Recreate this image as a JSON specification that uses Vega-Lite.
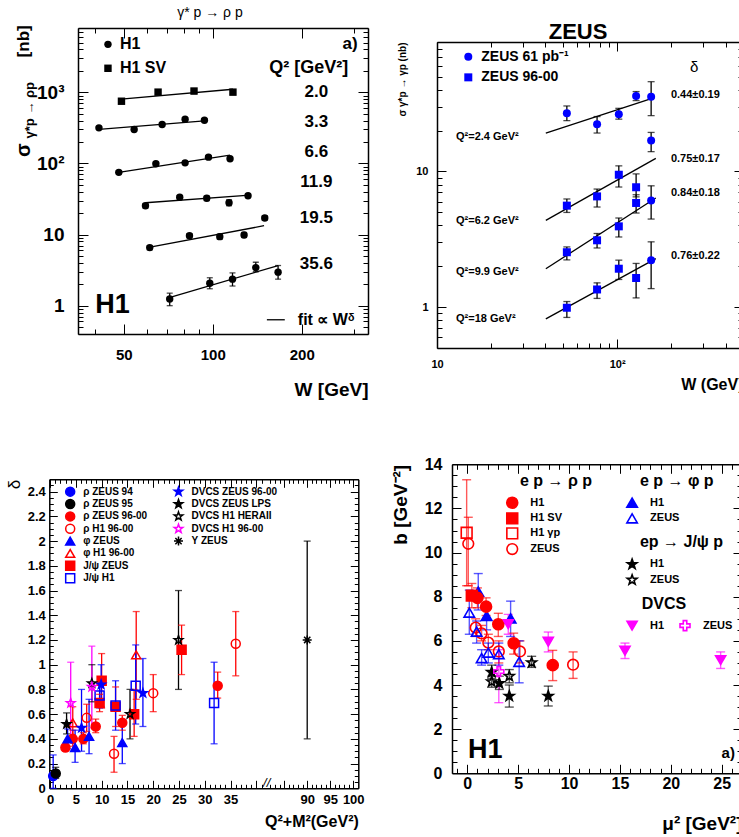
{
"$schema": "https://vega.github.io/schema/vega-lite/v6.json",
"width": 739, "height": 837,
"autosize": {"type": "none"},
"padding": 0,
"background": "white",
"config": {
  "font": "Liberation Sans",
  "view": {"stroke": null},
  "axis": {"grid": false, "labelFlush": false, "labelOverlap": false, "domainColor": "#000000", "domainWidth": 1.5, "tickColor": "#000000", "tickWidth": 1, "labelColor": "#000000", "labelFontWeight": "bold", "titleColor": "#000000", "titleFontWeight": "bold", "labelFont": "Liberation Sans", "titleFont": "Liberation Sans"}
},
"datasets": {
  "tl": [
    {"s":"H1 SV","q":"2.0","x":49.1,"y":748,"lo":690,"hi":810},
    {"s":"H1 SV","q":"2.0","x":65.3,"y":1004,"lo":925,"hi":1085},
    {"s":"H1 SV","q":"2.0","x":86.4,"y":1040,"lo":955,"hi":1125},
    {"s":"H1 SV","q":"2.0","x":117,"y":1004,"lo":925,"hi":1085},
    {"s":"H1","q":"3.3","x":41.2,"y":316,"lo":302,"hi":330},
    {"s":"H1","q":"3.3","x":54.2,"y":300,"lo":287,"hi":313},
    {"s":"H1","q":"3.3","x":67.4,"y":352,"lo":337,"hi":367},
    {"s":"H1","q":"3.3","x":80.6,"y":418,"lo":400,"hi":436},
    {"s":"H1","q":"3.3","x":93.7,"y":405,"lo":388,"hi":422},
    {"s":"H1","q":"6.6","x":48.1,"y":74.8,"lo":71.2,"hi":78.4},
    {"s":"H1","q":"6.6","x":64.2,"y":98.6,"lo":93.8,"hi":103.4},
    {"s":"H1","q":"6.6","x":80.6,"y":101.8,"lo":96.8,"hi":106.8},
    {"s":"H1","q":"6.6","x":96.7,"y":122.4,"lo":116.3,"hi":128.5},
    {"s":"H1","q":"6.6","x":114.4,"y":116,"lo":110,"hi":122},
    {"s":"H1","q":"11.9","x":59.2,"y":25.4,"lo":23.6,"hi":27.3},
    {"s":"H1","q":"11.9","x":77.3,"y":33.4,"lo":31.6,"hi":35.3},
    {"s":"H1","q":"11.9","x":95.4,"y":32.3,"lo":30,"hi":34.8},
    {"s":"H1","q":"11.9","x":113.5,"y":28,"lo":25.4,"hi":30.8},
    {"s":"H1","q":"11.9","x":131.6,"y":35.1,"lo":33.2,"hi":37.1},
    {"s":"H1","q":"19.5","x":61.2,"y":6.55,"lo":6.1,"hi":7.0},
    {"s":"H1","q":"19.5","x":83.4,"y":9.65,"lo":9.0,"hi":10.3},
    {"s":"H1","q":"19.5","x":105.6,"y":9.34,"lo":8.6,"hi":10.1},
    {"s":"H1","q":"19.5","x":127.6,"y":9.87,"lo":9.1,"hi":10.7},
    {"s":"H1","q":"19.5","x":149.9,"y":17.1,"lo":15.9,"hi":18.4},
    {"s":"H1","q":"35.6","x":71.5,"y":1.24,"lo":1.0,"hi":1.5},
    {"s":"H1","q":"35.6","x":97.7,"y":2.07,"lo":1.73,"hi":2.47},
    {"s":"H1","q":"35.6","x":116.6,"y":2.36,"lo":1.89,"hi":2.89},
    {"s":"H1","q":"35.6","x":139.8,"y":3.43,"lo":3.0,"hi":4.08},
    {"s":"H1","q":"35.6","x":166.3,"y":2.96,"lo":2.36,"hi":3.67}
  ],
  "tl_fit": [
    {"q":"2.0","x":49,"y":798},{"q":"2.0","x":117,"y":1102},
    {"q":"3.3","x":41.2,"y":300},{"q":"3.3","x":93.7,"y":395},
    {"q":"6.6","x":48.1,"y":74.8},{"q":"6.6","x":114.4,"y":130.7},
    {"q":"11.9","x":59.2,"y":28},{"q":"11.9","x":133.4,"y":35.9},
    {"q":"19.5","x":60.1,"y":6.55},{"q":"19.5","x":149.1,"y":13.3},
    {"q":"35.6","x":70.3,"y":1.28},{"q":"35.6","x":166.3,"y":3.66}
  ],
  "tl_leg": [{"s":"H1","x":44.2,"y":4710,"t":"H1"},{"s":"H1 SV","x":44.2,"y":2173,"t":"H1 SV"}],
  "tl_q": [{"t":"2.0","x":224,"y":1010},{"t":"3.3","x":224,"y":383},{"t":"6.6","x":224,"y":145},{"t":"11.9","x":224,"y":55},{"t":"19.5","x":224,"y":17.3},{"t":"35.6","x":224,"y":3.9}],
  "tr": [
    {"s":"61","q":"2.4","x":52.6,"y":26.9,"lo":23.7,"hi":30.4},
    {"s":"61","q":"2.4","x":77.4,"y":22.3,"lo":19.2,"hi":25.4},
    {"s":"61","q":"2.4","x":102.2,"y":26.4,"lo":24.3,"hi":29.2},
    {"s":"61","q":"2.4","x":127.5,"y":36.0,"lo":33.3,"hi":38.8},
    {"s":"61","q":"2.4","x":154.5,"y":35.6,"lo":25.8,"hi":45.9},
    {"s":"9600","q":"6.2","x":52.6,"y":5.6,"lo":4.99,"hi":6.27},
    {"s":"9600","q":"6.2","x":77.4,"y":6.55,"lo":5.47,"hi":7.42},
    {"s":"9600","q":"6.2","x":102.2,"y":9.46,"lo":7.68,"hi":11.0},
    {"s":"9600","q":"6.2","x":127.5,"y":7.65,"lo":6.5,"hi":9.6},
    {"s":"61","q":"6.2","x":154.5,"y":16.9,"lo":14.0,"hi":19.4},
    {"s":"9600","q":"9.9","x":52.6,"y":2.54,"lo":2.23,"hi":2.78},
    {"s":"9600","q":"9.9","x":77.4,"y":3.11,"lo":2.73,"hi":3.49},
    {"s":"9600","q":"9.9","x":102.2,"y":3.94,"lo":3.29,"hi":4.54},
    {"s":"9600","q":"9.9","x":127.5,"y":5.86,"lo":4.94,"hi":6.74},
    {"s":"61","q":"9.9","x":154.5,"y":6.12,"lo":4.46,"hi":7.84},
    {"s":"9600","q":"18","x":52.6,"y":0.99,"lo":0.84,"hi":1.1},
    {"s":"9600","q":"18","x":77.4,"y":1.35,"lo":1.16,"hi":1.51},
    {"s":"9600","q":"18","x":102.2,"y":1.92,"lo":1.6,"hi":2.22},
    {"s":"9600","q":"18","x":127.5,"y":1.64,"lo":1.17,"hi":2.1},
    {"s":"61","q":"18","x":154.5,"y":2.22,"lo":1.37,"hi":3.03}
  ],
  "tr_fit": [
    {"q":"2.4","x":40.2,"y":19.2},{"q":"2.4","x":161,"y":35.0},
    {"q":"6.2","x":40.2,"y":4.36},{"q":"6.2","x":164,"y":12.5},
    {"q":"9.9","x":40.2,"y":1.92},{"q":"9.9","x":164,"y":6.37},
    {"q":"18","x":40.2,"y":0.82},{"q":"18","x":164,"y":2.28}
  ],
  "tr_leg": [{"s":"61","x":14.92,"y":70.1,"t":"ZEUS 61 pb⁻¹"},{"s":"9600","x":14.92,"y":49.4,"t":"ZEUS 96-00"}],
  "tr_d": [{"t":"0.44±0.19","x":199,"y":36.5},{"t":"0.75±0.17","x":199,"y":12.4},{"t":"0.84±0.18","x":199,"y":6.94},{"t":"0.76±0.22","x":199,"y":2.4}],
  "tr_q": [{"t":"Q²=2.4 GeV²","x":12.75,"y":18.1},{"t":"Q²=6.2 GeV²","x":12.75,"y":4.29},{"t":"Q²=9.9 GeV²","x":12.75,"y":1.83},{"t":"Q²=18 GeV²","x":12.75,"y":0.815}],
  "bl": [
    {"s":"rz94","x":0.6,"y":0.10,"lo":0.0,"hi":0.27},
    {"s":"rz95","x":1.1,"y":0.12,"lo":0.08,"hi":0.17},
    {"s":"rz96","x":2.97,"y":0.33,"lo":0.30,"hi":0.36},
    {"s":"rz96","x":4.4,"y":0.40,"lo":0.34,"hi":0.47},
    {"s":"rz96","x":6.45,"y":0.40,"lo":0.36,"hi":0.45},
    {"s":"rz96","x":8.85,"y":0.50,"lo":0.45,"hi":0.56},
    {"s":"rz96","x":14.0,"y":0.53,"lo":0.47,"hi":0.59},
    {"s":"rz96","x":32.5,"y":0.83,"lo":0.73,"hi":0.94},
    {"s":"rh1","x":7.1,"y":0.57,"lo":0.46,"hi":0.68},
    {"s":"rh1","x":12.4,"y":0.28,"lo":0.13,"hi":0.42},
    {"s":"rh1","x":20.0,"y":0.77,"lo":0.62,"hi":0.92},
    {"s":"rh1","x":36.0,"y":1.17,"lo":0.91,"hi":1.43},
    {"s":"pz","x":3.4,"y":0.40,"lo":0.32,"hi":0.48},
    {"s":"pz","x":4.85,"y":0.33,"lo":0.21,"hi":0.47},
    {"s":"pz","x":7.56,"y":0.42,"lo":0.28,"hi":0.72},
    {"s":"pz","x":14.0,"y":0.37,"lo":0.20,"hi":0.55},
    {"s":"ph1","x":4.4,"y":0.53,"lo":0.40,"hi":0.66},
    {"s":"ph1","x":16.7,"y":1.08,"lo":0.72,"hi":1.43},
    {"s":"jz","x":9.6,"y":0.69,"lo":0.62,"hi":0.76},
    {"s":"jz","x":10.0,"y":0.87,"lo":0.65,"hi":1.09},
    {"s":"jz","x":12.7,"y":0.66,"lo":0.50,"hi":0.82},
    {"s":"jz","x":16.3,"y":0.60,"lo":0.42,"hi":0.80},
    {"s":"jz","x":25.5,"y":1.12,"lo":0.92,"hi":1.32},
    {"s":"jh1","x":9.6,"y":0.75,"lo":0.65,"hi":0.85},
    {"s":"jh1","x":12.7,"y":0.67,"lo":0.47,"hi":0.87},
    {"s":"jh1","x":16.6,"y":0.83,"lo":0.52,"hi":1.16},
    {"s":"jh1","x":31.8,"y":0.69,"lo":0.36,"hi":1.02},
    {"s":"dz","x":6.1,"y":0.49,"lo":0.30,"hi":0.80},
    {"s":"dz","x":9.9,"y":0.84,"lo":0.66,"hi":1.0},
    {"s":"dz","x":18.0,"y":0.77,"lo":0.50,"hi":1.05},
    {"s":"dzl","x":3.2,"y":0.52,"lo":0.44,"hi":0.61},
    {"s":"dh2","x":8.1,"y":0.85,"lo":0.70,"hi":1.0},
    {"s":"dh2","x":15.5,"y":0.60,"lo":0.40,"hi":0.80},
    {"s":"dh2","x":24.9,"y":1.20,"lo":0.80,"hi":1.60},
    {"s":"dh1","x":4.0,"y":0.69,"lo":0.38,"hi":1.02},
    {"s":"dh1","x":8.1,"y":0.82,"lo":0.49,"hi":1.15},
    {"s":"uz","x":90,"y":1.2,"lo":0.4,"hi":2.0}
  ],
  "bl_leg": [
    {"s":"rz94","x":3.9,"y":2.4,"t":"ρ ZEUS 94"},
    {"s":"rz95","x":3.9,"y":2.3,"t":"ρ ZEUS 95"},
    {"s":"rz96","x":3.9,"y":2.2,"t":"ρ ZEUS 96-00"},
    {"s":"rh1","x":3.9,"y":2.1,"t":"ρ H1 96-00"},
    {"s":"pz","x":3.9,"y":2.0,"t":"φ ZEUS"},
    {"s":"ph1","x":3.9,"y":1.9,"t":"φ H1 96-00"},
    {"s":"jz","x":3.9,"y":1.8,"t":"J/ψ ZEUS"},
    {"s":"jh1","x":3.9,"y":1.7,"t":"J/ψ H1"},
    {"s":"dz","x":24.9,"y":2.4,"t":"DVCS ZEUS 96-00"},
    {"s":"dzl","x":24.9,"y":2.3,"t":"DVCS ZEUS LPS"},
    {"s":"dh2","x":24.9,"y":2.2,"t":"DVCS H1 HERAII"},
    {"s":"dh1","x":24.9,"y":2.1,"t":"DVCS H1 96-00"},
    {"s":"uz","x":24.9,"y":2.0,"t":"Υ ZEUS"}
  ],
  "br": [
    {"s":"rgp","x":-0.06,"y":10.9,"lo":8.5,"hi":13.3},
    {"s":"rz","x":0.1,"y":10.4,"lo":8.5,"hi":11.6},
    {"s":"rz","x":0.83,"y":6.6,"lo":6.2,"hi":7.0},
    {"s":"rz","x":1.41,"y":6.34,"lo":6.0,"hi":6.7},
    {"s":"rz","x":2.07,"y":5.92,"lo":5.6,"hi":6.3},
    {"s":"rz","x":3.1,"y":5.52,"lo":5.0,"hi":6.0},
    {"s":"rz","x":5.18,"y":5.52,"lo":5.0,"hi":6.0},
    {"s":"rz","x":10.4,"y":4.92,"lo":4.3,"hi":5.5},
    {"s":"pz","x":0.2,"y":7.28,"lo":6.3,"hi":8.3},
    {"s":"pz","x":0.92,"y":6.42,"lo":5.9,"hi":6.9},
    {"s":"pz","x":1.41,"y":5.22,"lo":4.9,"hi":5.6},
    {"s":"pz","x":2.07,"y":5.47,"lo":5.0,"hi":5.9},
    {"s":"pz","x":3.1,"y":5.4,"lo":4.9,"hi":5.9},
    {"s":"pz","x":5.1,"y":5.05,"lo":4.1,"hi":6.0},
    {"s":"ph1","x":1.08,"y":8.23,"lo":7.4,"hi":9.05},
    {"s":"ph1","x":1.9,"y":7.13,"lo":6.5,"hi":7.7},
    {"s":"ph1","x":4.26,"y":7.02,"lo":6.2,"hi":7.8},
    {"s":"rsv","x":0.45,"y":8.05,"lo":7.5,"hi":8.6},
    {"s":"rh1","x":1.0,"y":7.95,"lo":7.5,"hi":8.4},
    {"s":"rh1","x":1.85,"y":7.55,"lo":7.15,"hi":7.95},
    {"s":"rh1","x":3.05,"y":6.75,"lo":6.2,"hi":7.25},
    {"s":"rh1","x":4.56,"y":5.89,"lo":5.4,"hi":6.35},
    {"s":"rh1","x":8.4,"y":4.9,"lo":4.2,"hi":5.57},
    {"s":"jz","x":2.4,"y":4.15,"lo":3.9,"hi":4.4},
    {"s":"jz","x":4.13,"y":4.4,"lo":4.1,"hi":4.7},
    {"s":"jz","x":6.33,"y":5.02,"lo":4.8,"hi":5.3},
    {"s":"jh1","x":2.4,"y":4.58,"lo":4.3,"hi":4.9},
    {"s":"jh1","x":3.15,"y":4.08,"lo":3.8,"hi":4.4},
    {"s":"jh1","x":4.13,"y":3.5,"lo":3.0,"hi":4.0},
    {"s":"jh1","x":7.96,"y":3.5,"lo":3.05,"hi":3.95},
    {"s":"dz","x":3.1,"y":4.61,"lo":3.2,"hi":5.6},
    {"s":"dh1","x":4.03,"y":6.76,"lo":6.3,"hi":7.2},
    {"s":"dh1","x":7.96,"y":5.96,"lo":5.5,"hi":6.4},
    {"s":"dh1","x":15.5,"y":5.55,"lo":5.2,"hi":5.9},
    {"s":"dh1","x":24.9,"y":5.13,"lo":4.75,"hi":5.5}
  ],
  "br_leg": [
    {"s":"rh1","x":4.42,"y":12.26,"t":"H1"},
    {"s":"rsv","x":4.42,"y":11.55,"t":"H1 SV"},
    {"s":"rgp","x":4.42,"y":10.87,"t":"H1 γp"},
    {"s":"rz","x":4.42,"y":10.16,"t":"ZEUS"},
    {"s":"ph1","x":16.2,"y":12.26,"t":"H1"},
    {"s":"pz","x":16.2,"y":11.55,"t":"ZEUS"},
    {"s":"jh1","x":16.2,"y":9.47,"t":"H1"},
    {"s":"jz","x":16.2,"y":8.76,"t":"ZEUS"},
    {"s":"dh1","x":16.2,"y":6.69,"t":"H1"},
    {"s":"dz","x":21.4,"y":6.69,"t":"ZEUS"}
  ],
  "br_hdr": [{"t":"e p → ρ p","x":5.18,"y":13.24},{"t":"e p → φ p","x":16.97,"y":13.24},{"t":"ep → J/ψ p","x":16.97,"y":10.47},{"t":"DVCS","x":17.14,"y":7.67}]
},
"layer": [
  {
    "encoding": {
      "x": {"field": "x", "type": "quantitative", "scale": {"type": "log", "domain": [35, 335], "range": [78, 368], "nice": false}, "axis": null},
      "y": {"field": "y", "type": "quantitative", "scale": {"type": "log", "domain": [0.4, 8000], "range": [334, 28], "nice": false}, "axis": null}
    },
    "layer": [
      {"data": {"name": "tl"}, "mark": {"type": "point", "opacity": 0},
       "encoding": {
         "x": {"field": "x", "type": "quantitative", "scale": {"type": "log", "domain": [35, 335], "range": [78, 368], "nice": false},
               "axis": {"orient": "bottom", "offset": -503, "values": [40,50,60,70,80,90,100,200,300], "labelExpr": "(datum.value == 50 || datum.value == 100 || datum.value == 200) ? '' + datum.value : ''", "tickSize": {"condition": {"test": "datum.value == 50 || datum.value == 100 || datum.value == 200", "value": -10}, "value": -5}, "labelPadding": 23, "labelFontSize": 15, "title": "W [GeV]", "titleAnchor": "end", "titleFontSize": 19, "titlePadding": 13}}
       }},
      {"data": {"name": "tl"}, "mark": {"type": "point", "opacity": 0},
       "encoding": {
         "y": {"field": "y", "type": "quantitative", "scale": {"type": "log", "domain": [0.4, 8000], "range": [334, 28], "nice": false},
               "axis": {"orient": "left", "offset": -78, "values": [0.4,0.5,0.6,0.7,0.8,0.9,1,2,3,4,5,6,7,8,9,10,20,30,40,50,60,70,80,90,100,200,300,400,500,600,700,800,900,1000,2000,3000,4000,5000,6000,7000,8000], "labelExpr": "datum.value == 1000 ? '10³' : datum.value == 100 ? '10²' : datum.value == 10 ? '10' : datum.value == 1 ? '1' : ''", "tickSize": {"condition": {"test": "datum.value == 1 || datum.value == 10 || datum.value == 100 || datum.value == 1000", "value": -10}, "value": -5}, "labelPadding": 24, "labelAlign": "right", "labelFontSize": 19, "title": null}}
       }},
      {"data": {"name": "tl"}, "mark": {"type": "point", "opacity": 0},
       "encoding": {
         "x": {"field": "x", "type": "quantitative", "scale": {"type": "log", "domain": [35, 335], "range": [78, 368], "nice": false},
               "axis": {"orient": "top", "offset": -28, "values": [40,50,60,70,80,90,100,200,300], "labels": false, "tickSize": {"condition": {"test": "datum.value == 50 || datum.value == 100 || datum.value == 200", "value": -10}, "value": -5}, "title": null}},
         "y": {"field": "y", "type": "quantitative", "scale": {"type": "log", "domain": [0.4, 8000], "range": [334, 28], "nice": false},
               "axis": {"orient": "right", "offset": -371, "values": [0.4,0.5,0.6,0.7,0.8,0.9,1,2,3,4,5,6,7,8,9,10,20,30,40,50,60,70,80,90,100,200,300,400,500,600,700,800,900,1000,2000,3000,4000,5000,6000,7000,8000], "labels": false, "tickSize": {"condition": {"test": "datum.value == 1 || datum.value == 10 || datum.value == 100 || datum.value == 1000", "value": -10}, "value": -5}, "title": null}}
       }},
      {"data": {"name": "tl_fit"}, "mark": {"type": "line", "color": "#000000", "strokeWidth": 1.3}, "encoding": {"detail": {"field": "q", "type": "nominal"}}},
      {"data": {"name": "tl"}, "mark": {"type": "rule", "color": "#000000", "strokeWidth": 1.3},
       "encoding": {"y": {"field": "lo", "type": "quantitative", "scale": {"type": "log", "domain": [0.4, 8000], "range": [334, 28], "nice": false}, "axis": null}, "y2": {"field": "hi"}}},
      {"data": {"name": "tl"}, "mark": {"type": "tick", "orient": "horizontal", "size": 6, "thickness": 1.3, "color": "#000000"},
       "encoding": {"y": {"field": "lo", "type": "quantitative", "scale": {"type": "log", "domain": [0.4, 8000], "range": [334, 28], "nice": false}, "axis": null}}},
      {"data": {"name": "tl"}, "mark": {"type": "tick", "orient": "horizontal", "size": 6, "thickness": 1.3, "color": "#000000"},
       "encoding": {"y": {"field": "hi", "type": "quantitative", "scale": {"type": "log", "domain": [0.4, 8000], "range": [334, 28], "nice": false}, "axis": null}}},
      {"data": {"name": "tl"}, "mark": {"type": "point", "filled": true, "color": "#000000", "opacity": 1, "size": 55},
       "encoding": {"shape": {"field": "s", "type": "nominal", "scale": {"domain": ["H1", "H1 SV"], "range": ["circle", "square"]}, "legend": null}}},
      {"data": {"name": "tl_leg"}, "mark": {"type": "point", "filled": true, "color": "#000000", "opacity": 1, "size": 55},
       "encoding": {"shape": {"field": "s", "type": "nominal", "scale": {"domain": ["H1", "H1 SV"], "range": ["circle", "square"]}, "legend": null}}},
      {"data": {"name": "tl_leg"}, "mark": {"type": "text", "align": "left", "baseline": "middle", "dx": 12, "fontSize": 16, "fontWeight": "bold"}, "encoding": {"text": {"field": "t"}}},
      {"data": {"name": "tl_q"}, "mark": {"type": "text", "align": "center", "baseline": "middle", "fontSize": 17, "fontWeight": "bold"}, "encoding": {"text": {"field": "t"}}},
      {"data": {"values": [{"t": "Q² [GeV²]", "x": 211, "y": 2173}]}, "mark": {"type": "text", "align": "center", "baseline": "middle", "fontSize": 18, "fontWeight": "bold"}, "encoding": {"text": {"field": "t"}}},
      {"data": {"values": [{"t": "a)", "x": 309, "y": 4700}]}, "mark": {"type": "text", "align": "right", "baseline": "middle", "fontSize": 17, "fontWeight": "bold"}, "encoding": {"text": {"field": "t"}}},
      {"data": {"values": [{"t": "H1", "x": 40, "y": 1.03}]}, "mark": {"type": "text", "align": "left", "baseline": "middle", "fontSize": 27, "fontWeight": "bold"}, "encoding": {"text": {"field": "t"}}},
      {"data": {"values": [{"t": "fit ∝ Wᵟ", "x": 193.9, "y": 0.634}]}, "mark": {"type": "text", "align": "left", "baseline": "middle", "fontSize": 16, "fontWeight": "bold"}, "encoding": {"text": {"field": "t"}}},
      {"data": {"values": [{"x": 152.4, "x2": 175.2, "y": 0.634}]}, "mark": {"type": "rule", "color": "#000000", "strokeWidth": 1.3}, "encoding": {"x2": {"field": "x2"}}},
      {"data": {"values": [{"t": "γ* p → ρ p", "x": 97.8, "y": 12800}]}, "mark": {"type": "text", "align": "center", "baseline": "middle", "fontSize": 14}, "encoding": {"text": {"field": "t"}}},
      {"data": {"values": [{"t": "σ", "x": 22.9, "y": 153.7}]}, "mark": {"type": "text", "align": "center", "baseline": "middle", "angle": 270, "fontSize": 20, "fontWeight": "bold"}, "encoding": {"text": {"field": "t"}}},
      {"data": {"values": [{"t": "γ*p → ρp", "x": 24.1, "y": 559}]}, "mark": {"type": "text", "align": "center", "baseline": "middle", "angle": 270, "fontSize": 13, "fontWeight": "bold"}, "encoding": {"text": {"field": "t"}}},
      {"data": {"values": [{"t": "[nb]", "x": 22.9, "y": 5190}]}, "mark": {"type": "text", "align": "center", "baseline": "middle", "angle": 270, "fontSize": 17, "fontWeight": "bold"}, "encoding": {"text": {"field": "t"}}}
    ],
    "resolve": {"axis": {"x": "independent", "y": "independent"}}
  },
  {
    "encoding": {
      "x": {"field": "x", "type": "quantitative", "scale": {"type": "log", "domain": [10, 500], "range": [437, 743], "nice": false}, "axis": null},
      "y": {"field": "y", "type": "quantitative", "scale": {"type": "log", "domain": [0.5, 90], "range": [348, 42], "nice": false}, "axis": null}
    },
    "layer": [
      {"data": {"name": "tr"}, "mark": {"type": "point", "opacity": 0},
       "encoding": {
         "x": {"field": "x", "type": "quantitative", "scale": {"type": "log", "domain": [10, 500], "range": [437, 743], "nice": false},
               "axis": {"orient": "bottom", "offset": -489, "values": [10,20,30,40,50,60,70,80,90,100,200,300,400,500], "labelExpr": "datum.value == 10 ? '10' : datum.value == 100 ? '10²' : ''", "tickSize": {"condition": {"test": "datum.value == 10 || datum.value == 100", "value": -9}, "value": -5}, "labelPadding": 19, "labelFontSize": 11, "title": "W (GeV)", "titleAnchor": "end", "titleFontSize": 16, "titlePadding": 3}},
         "y": {"field": "y", "type": "quantitative", "scale": {"type": "log", "domain": [0.5, 90], "range": [348, 42], "nice": false},
               "axis": {"orient": "left", "offset": -437, "values": [0.5,0.6,0.7,0.8,0.9,1,2,3,4,5,6,7,8,9,10,20,30,40,50,60,70,80,90], "labelExpr": "datum.value == 10 ? '10' : datum.value == 1 ? '1' : ''", "tickSize": {"condition": {"test": "datum.value == 1 || datum.value == 10", "value": -9}, "value": -5}, "labelPadding": 18, "labelFontSize": 11, "title": "σ γ*p → γp (nb)", "titleAnchor": "end", "titleFontSize": 10, "titlePadding": 8}}
       }},
      {"data": {"name": "tr"}, "mark": {"type": "point", "opacity": 0},
       "encoding": {
         "x": {"field": "x", "type": "quantitative", "scale": {"type": "log", "domain": [10, 500], "range": [437, 743], "nice": false},
               "axis": {"orient": "top", "offset": -42, "values": [10,20,30,40,50,60,70,80,90,100,200,300,400,500], "labels": false, "tickSize": {"condition": {"test": "datum.value == 10 || datum.value == 100", "value": -9}, "value": -5}, "title": null}},
         "y": {"field": "y", "type": "quantitative", "scale": {"type": "log", "domain": [0.5, 90], "range": [348, 42], "nice": false},
               "axis": {"orient": "right", "offset": 4, "values": [0.5,0.6,0.7,0.8,0.9,1,2,3,4,5,6,7,8,9,10,20,30,40,50,60,70,80,90], "labels": false, "tickSize": {"condition": {"test": "datum.value == 1 || datum.value == 10", "value": -9}, "value": -5}, "title": null}}
       }},
      {"data": {"name": "tr_fit"}, "mark": {"type": "line", "color": "#000000", "strokeWidth": 1.3}, "encoding": {"detail": {"field": "q", "type": "nominal"}}},
      {"data": {"name": "tr"}, "mark": {"type": "rule", "color": "#000000", "strokeWidth": 1.3},
       "encoding": {"y": {"field": "lo", "type": "quantitative", "scale": {"type": "log", "domain": [0.5, 90], "range": [348, 42], "nice": false}, "axis": null}, "y2": {"field": "hi"}}},
      {"data": {"name": "tr"}, "mark": {"type": "tick", "orient": "horizontal", "size": 7, "thickness": 1.3, "color": "#000000"},
       "encoding": {"y": {"field": "lo", "type": "quantitative", "scale": {"type": "log", "domain": [0.5, 90], "range": [348, 42], "nice": false}, "axis": null}}},
      {"data": {"name": "tr"}, "mark": {"type": "tick", "orient": "horizontal", "size": 7, "thickness": 1.3, "color": "#000000"},
       "encoding": {"y": {"field": "hi", "type": "quantitative", "scale": {"type": "log", "domain": [0.5, 90], "range": [348, 42], "nice": false}, "axis": null}}},
      {"data": {"name": "tr"}, "mark": {"type": "point", "filled": true, "color": "#0000ff", "opacity": 1, "size": 64},
       "encoding": {"shape": {"field": "s", "type": "nominal", "scale": {"domain": ["61", "9600"], "range": ["circle", "square"]}, "legend": null}}},
      {"data": {"name": "tr_leg"}, "mark": {"type": "point", "filled": true, "color": "#0000ff", "opacity": 1, "size": 64},
       "encoding": {"shape": {"field": "s", "type": "nominal", "scale": {"domain": ["61", "9600"], "range": ["circle", "square"]}, "legend": null}}},
      {"data": {"name": "tr_leg"}, "mark": {"type": "text", "align": "left", "baseline": "middle", "dx": 13, "fontSize": 14, "fontWeight": "bold"}, "encoding": {"text": {"field": "t"}}},
      {"data": {"name": "tr_d"}, "mark": {"type": "text", "align": "left", "baseline": "middle", "fontSize": 11, "fontWeight": "bold"}, "encoding": {"text": {"field": "t"}}},
      {"data": {"name": "tr_q"}, "mark": {"type": "text", "align": "left", "baseline": "middle", "fontSize": 11, "fontWeight": "bold"}, "encoding": {"text": {"field": "t"}}},
      {"data": {"values": [{"t": "δ", "x": 268, "y": 59.2}]}, "mark": {"type": "text", "align": "center", "baseline": "middle", "fontSize": 15}, "encoding": {"text": {"field": "t"}}},
      {"data": {"values": [{"t": "ZEUS", "x": 60.7, "y": 107}]}, "mark": {"type": "text", "align": "center", "baseline": "middle", "fontSize": 22, "fontWeight": "bold"}, "encoding": {"text": {"field": "t"}}}
    ],
    "resolve": {"axis": {"x": "independent", "y": "independent"}}
  },
  {
    "encoding": {
      "x": {"field": "x", "type": "quantitative", "scale": {"type": "linear", "domain": [-0.15, 42, 81.2, 101.1], "range": [49.3, 266.7, 266.7, 358.3], "nice": false, "zero": false}, "axis": null},
      "y": {"field": "y", "type": "quantitative", "scale": {"type": "linear", "domain": [0, 2.5], "range": [788.3, 479.3], "nice": false, "zero": false}, "axis": null},
      "color": {"field": "s", "type": "nominal", "scale": {"domain": ["rz94","rz95","rz96","rh1","pz","ph1","jz","jh1","dz","dzl","dh2","dh1","uz"], "range": ["#0000ff","#000000","#ff0000","#ff0000","#0000ff","#ff0000","#ff0000","#0000ff","#0000ff","#000000","#000000","#ff00ff","#000000"]}, "legend": null}
    },
    "layer": [
      {"data": {"name": "bl"}, "mark": {"type": "point", "opacity": 0},
       "encoding": {
         "x": {"field": "x", "type": "quantitative", "scale": {"type": "linear", "domain": [-0.15, 42, 81.2, 101.1], "range": [49.3, 266.7, 266.7, 358.3], "nice": false, "zero": false},
               "axis": {"orient": "bottom", "offset": -48.7, "values": [0,1,2,3,4,5,6,7,8,9,10,11,12,13,14,15,16,17,18,19,20,21,22,23,24,25,26,27,28,29,30,31,32,33,34,35,36,37,38,39,40,41,82,83,84,85,86,87,88,89,90,91,92,93,94,95,96,97,98,99,100], "labelExpr": "(datum.value % 5 == 0 && (datum.value <= 35 || datum.value >= 90)) ? '' + datum.value : ''", "tickSize": {"condition": {"test": "datum.value % 5 == 0", "value": -8}, "value": -4}, "labelPadding": 13, "labelFontSize": 13, "title": "Q²+M²(GeV²)", "titleAnchor": "end", "titleFontSize": 16, "titlePadding": 3}},
         "y": {"field": "y", "type": "quantitative", "scale": {"type": "linear", "domain": [0, 2.5], "range": [788.3, 479.3], "nice": false, "zero": false},
               "axis": {"orient": "left", "offset": -49.3, "values": [0,0.05,0.1,0.15,0.2,0.25,0.3,0.35,0.4,0.45,0.5,0.55,0.6,0.65,0.7,0.75,0.8,0.85,0.9,0.95,1,1.05,1.1,1.15,1.2,1.25,1.3,1.35,1.4,1.45,1.5,1.55,1.6,1.65,1.7,1.75,1.8,1.85,1.9,1.95,2,2.05,2.1,2.15,2.2,2.25,2.3,2.35,2.4,2.45,2.5], "labelExpr": "abs(datum.value * 5 - round(datum.value * 5)) < 0.001 ? format(datum.value, '.1~f') : ''", "tickSize": {"condition": {"test": "abs(datum.value * 5 - round(datum.value * 5)) < 0.001", "value": -8}, "value": -4}, "labelPadding": 12, "labelFontSize": 13, "title": "δ", "titleAnchor": "end", "titleFontSize": 17, "titleFontWeight": "normal", "titlePadding": 4}}
       }},
      {"data": {"name": "bl"}, "mark": {"type": "point", "opacity": 0},
       "encoding": {
         "x": {"field": "x", "type": "quantitative", "scale": {"type": "linear", "domain": [-0.15, 42, 81.2, 101.1], "range": [49.3, 266.7, 266.7, 358.3], "nice": false, "zero": false},
               "axis": {"orient": "top", "offset": -479.3, "values": [0,1,2,3,4,5,6,7,8,9,10,11,12,13,14,15,16,17,18,19,20,21,22,23,24,25,26,27,28,29,30,31,32,33,34,35,36,37,38,39,40,41,82,83,84,85,86,87,88,89,90,91,92,93,94,95,96,97,98,99,100], "labels": false, "tickSize": {"condition": {"test": "datum.value % 5 == 0", "value": -8}, "value": -4}, "title": null}},
         "y": {"field": "y", "type": "quantitative", "scale": {"type": "linear", "domain": [0, 2.5], "range": [788.3, 479.3], "nice": false, "zero": false},
               "axis": {"orient": "right", "offset": -380.7, "values": [0,0.05,0.1,0.15,0.2,0.25,0.3,0.35,0.4,0.45,0.5,0.55,0.6,0.65,0.7,0.75,0.8,0.85,0.9,0.95,1,1.05,1.1,1.15,1.2,1.25,1.3,1.35,1.4,1.45,1.5,1.55,1.6,1.65,1.7,1.75,1.8,1.85,1.9,1.95,2,2.05,2.1,2.15,2.2,2.25,2.3,2.35,2.4,2.45,2.5], "labels": false, "tickSize": {"condition": {"test": "abs(datum.value * 5 - round(datum.value * 5)) < 0.001", "value": -8}, "value": -4}, "title": null}}
       }},
      {"data": {"name": "bl"}, "mark": {"type": "rule", "strokeWidth": 1.3},
       "encoding": {"y": {"field": "lo", "type": "quantitative", "scale": {"type": "linear", "domain": [0, 2.5], "range": [788.3, 479.3], "nice": false, "zero": false}, "axis": null}, "y2": {"field": "hi"}}},
      {"data": {"name": "bl"}, "mark": {"type": "tick", "orient": "horizontal", "size": 7, "thickness": 1.3},
       "encoding": {"y": {"field": "lo", "type": "quantitative", "scale": {"type": "linear", "domain": [0, 2.5], "range": [788.3, 479.3], "nice": false, "zero": false}, "axis": null}}},
      {"data": {"name": "bl"}, "mark": {"type": "tick", "orient": "horizontal", "size": 7, "thickness": 1.3},
       "encoding": {"y": {"field": "hi", "type": "quantitative", "scale": {"type": "linear", "domain": [0, 2.5], "range": [788.3, 479.3], "nice": false, "zero": false}, "axis": null}}},
      {"data": {"name": "bl"}, "mark": {"type": "point", "filled": false, "opacity": 1, "strokeWidth": 1.5},
       "encoding": {
         "fill": {"field": "s", "type": "nominal", "scale": {"domain": ["rz94","rz95","rz96","rh1","pz","ph1","jz","jh1","dz","dzl","dh2","dh1","uz"], "range": ["#0000ff","#000000","#ff0000","transparent","#0000ff","transparent","#ff0000","transparent","#0000ff","#000000","transparent","transparent","transparent"]}, "legend": null},
         "shape": {"field": "s", "type": "nominal", "scale": {"domain": ["rz94","rz95","rz96","rh1","pz","ph1","jz","jh1","dz","dzl","dh2","dh1","uz"], "range": ["circle","circle","circle","circle","triangle-up","triangle-up","square","square","M0,-1L0.235,-0.324L0.951,-0.309L0.38,0.124L0.588,0.809L0,0.4L-0.588,0.809L-0.38,0.124L-0.951,-0.309L-0.235,-0.324Z","M0,-1L0.235,-0.324L0.951,-0.309L0.38,0.124L0.588,0.809L0,0.4L-0.588,0.809L-0.38,0.124L-0.951,-0.309L-0.235,-0.324Z","M0,-1L0.235,-0.324L0.951,-0.309L0.38,0.124L0.588,0.809L0,0.4L-0.588,0.809L-0.38,0.124L-0.951,-0.309L-0.235,-0.324Z","M0,-1L0.235,-0.324L0.951,-0.309L0.38,0.124L0.588,0.809L0,0.4L-0.588,0.809L-0.38,0.124L-0.951,-0.309L-0.235,-0.324Z","M-1,0L1,0M0,-1L0,1M-0.7,-0.7L0.7,0.7M-0.7,0.7L0.7,-0.7"]}, "legend": null},
         "size": {"field": "s", "type": "ordinal", "scale": {"domain": ["rz94","rz95","rz96","rh1","pz","ph1","jz","jh1","dz","dzl","dh2","dh1","uz"], "range": [81,81,81,81,100,100,81,100,36,36,90,90,81]}, "legend": null}
       }},
      {"data": {"name": "bl_leg"}, "mark": {"type": "point", "filled": false, "opacity": 1, "strokeWidth": 1.5},
       "encoding": {
         "fill": {"field": "s", "type": "nominal", "scale": {"domain": ["rz94","rz95","rz96","rh1","pz","ph1","jz","jh1","dz","dzl","dh2","dh1","uz"], "range": ["#0000ff","#000000","#ff0000","transparent","#0000ff","transparent","#ff0000","transparent","#0000ff","#000000","transparent","transparent","transparent"]}, "legend": null},
         "shape": {"field": "s", "type": "nominal", "scale": {"domain": ["rz94","rz95","rz96","rh1","pz","ph1","jz","jh1","dz","dzl","dh2","dh1","uz"], "range": ["circle","circle","circle","circle","triangle-up","triangle-up","square","square","M0,-1L0.235,-0.324L0.951,-0.309L0.38,0.124L0.588,0.809L0,0.4L-0.588,0.809L-0.38,0.124L-0.951,-0.309L-0.235,-0.324Z","M0,-1L0.235,-0.324L0.951,-0.309L0.38,0.124L0.588,0.809L0,0.4L-0.588,0.809L-0.38,0.124L-0.951,-0.309L-0.235,-0.324Z","M0,-1L0.235,-0.324L0.951,-0.309L0.38,0.124L0.588,0.809L0,0.4L-0.588,0.809L-0.38,0.124L-0.951,-0.309L-0.235,-0.324Z","M0,-1L0.235,-0.324L0.951,-0.309L0.38,0.124L0.588,0.809L0,0.4L-0.588,0.809L-0.38,0.124L-0.951,-0.309L-0.235,-0.324Z","M-1,0L1,0M0,-1L0,1M-0.7,-0.7L0.7,0.7M-0.7,0.7L0.7,-0.7"]}, "legend": null},
         "size": {"field": "s", "type": "ordinal", "scale": {"domain": ["rz94","rz95","rz96","rh1","pz","ph1","jz","jh1","dz","dzl","dh2","dh1","uz"], "range": [81,81,81,81,100,100,81,100,36,36,90,90,81]}, "legend": null}
       }},
      {"data": {"name": "bl_leg"}, "mark": {"type": "text", "align": "left", "baseline": "middle", "dx": 13, "fontSize": 10, "fontWeight": "bold", "color": "#000000"}, "encoding": {"text": {"field": "t"}, "color": {"value": "#000000"}}},
      {"data": {"values": [{"t": "//", "x": 42, "y": 0.04}]}, "mark": {"type": "text", "align": "center", "baseline": "middle", "fontSize": 13, "fontStyle": "italic"}, "encoding": {"text": {"field": "t"}, "color": {"value": "#000000"}}}
    ],
    "resolve": {"axis": {"x": "independent", "y": "independent"}}
  },
  {
    "encoding": {
      "x": {"field": "x", "type": "quantitative", "scale": {"type": "linear", "domain": [-1.5, 27], "range": [452, 742], "nice": false, "zero": false}, "axis": null},
      "y": {"field": "y", "type": "quantitative", "scale": {"type": "linear", "domain": [0, 14], "range": [773.3, 464.3], "nice": false, "zero": false}, "axis": null},
      "color": {"field": "s", "type": "nominal", "scale": {"domain": ["rh1","rsv","rgp","rz","ph1","pz","jh1","jz","dh1","dz"], "range": ["#ff0000","#ff0000","#ff0000","#ff0000","#0000ff","#0000ff","#000000","#000000","#ff00ff","#ff00ff"]}, "legend": null}
    },
    "layer": [
      {"data": {"name": "br"}, "mark": {"type": "point", "opacity": 0},
       "encoding": {
         "x": {"field": "x", "type": "quantitative", "scale": {"type": "linear", "domain": [-1.5, 27], "range": [452, 742], "nice": false, "zero": false},
               "axis": {"orient": "bottom", "offset": -63.7, "values": [-1,0,1,2,3,4,5,6,7,8,9,10,11,12,13,14,15,16,17,18,19,20,21,22,23,24,25,26,27], "labelExpr": "(datum.value % 5 == 0 && datum.value >= 0) ? '' + datum.value : ''", "tickSize": {"condition": {"test": "datum.value % 5 == 0", "value": -9}, "value": -5}, "labelPadding": 11, "labelFontSize": 16, "title": "μ² [GeV²]", "titleAnchor": "end", "titleFontSize": 19, "titlePadding": 19}},
         "y": {"field": "y", "type": "quantitative", "scale": {"type": "linear", "domain": [0, 14], "range": [773.3, 464.3], "nice": false, "zero": false},
               "axis": {"orient": "left", "offset": -452, "values": [0,0.5,1,1.5,2,2.5,3,3.5,4,4.5,5,5.5,6,6.5,7,7.5,8,8.5,9,9.5,10,10.5,11,11.5,12,12.5,13,13.5,14], "labelExpr": "datum.value % 2 == 0 ? '' + datum.value : ''", "tickSize": {"condition": {"test": "datum.value % 2 == 0", "value": -9}, "value": -5}, "labelPadding": 19, "labelFontSize": 16, "title": "b [GeV⁻²]", "titleAnchor": "end", "titleFontSize": 19, "titlePadding": 14}}
       }},
      {"data": {"name": "br"}, "mark": {"type": "point", "opacity": 0},
       "encoding": {
         "x": {"field": "x", "type": "quantitative", "scale": {"type": "linear", "domain": [-1.5, 27], "range": [452, 742], "nice": false, "zero": false},
               "axis": {"orient": "top", "offset": -464.3, "values": [-1,0,1,2,3,4,5,6,7,8,9,10,11,12,13,14,15,16,17,18,19,20,21,22,23,24,25,26,27], "labels": false, "tickSize": {"condition": {"test": "datum.value % 5 == 0", "value": -9}, "value": -5}, "title": null}},
         "y": {"field": "y", "type": "quantitative", "scale": {"type": "linear", "domain": [0, 14], "range": [773.3, 464.3], "nice": false, "zero": false},
               "axis": {"orient": "right", "offset": 3, "values": [0,0.5,1,1.5,2,2.5,3,3.5,4,4.5,5,5.5,6,6.5,7,7.5,8,8.5,9,9.5,10,10.5,11,11.5,12,12.5,13,13.5,14], "labels": false, "tickSize": {"condition": {"test": "datum.value % 2 == 0", "value": -9}, "value": -5}, "title": null}}
       }},
      {"data": {"name": "br"}, "mark": {"type": "rule", "strokeWidth": 1.4, "opacity": 0.65},
       "encoding": {"y": {"field": "lo", "type": "quantitative", "scale": {"type": "linear", "domain": [0, 14], "range": [773.3, 464.3], "nice": false, "zero": false}, "axis": null}, "y2": {"field": "hi"}}},
      {"data": {"name": "br"}, "mark": {"type": "tick", "orient": "horizontal", "size": 9, "thickness": 1.4, "opacity": 0.65},
       "encoding": {"y": {"field": "lo", "type": "quantitative", "scale": {"type": "linear", "domain": [0, 14], "range": [773.3, 464.3], "nice": false, "zero": false}, "axis": null}}},
      {"data": {"name": "br"}, "mark": {"type": "tick", "orient": "horizontal", "size": 9, "thickness": 1.4, "opacity": 0.65},
       "encoding": {"y": {"field": "hi", "type": "quantitative", "scale": {"type": "linear", "domain": [0, 14], "range": [773.3, 464.3], "nice": false, "zero": false}, "axis": null}}},
      {"data": {"name": "br"}, "mark": {"type": "point", "filled": false, "opacity": 1, "strokeWidth": 1.6},
       "encoding": {
         "fill": {"field": "s", "type": "nominal", "scale": {"domain": ["rh1","rsv","rgp","rz","ph1","pz","jh1","jz","dh1","dz"], "range": ["#ff0000","#ff0000","transparent","transparent","#0000ff","transparent","#000000","transparent","#ff00ff","transparent"]}, "legend": null},
         "shape": {"field": "s", "type": "nominal", "scale": {"domain": ["rh1","rsv","rgp","rz","ph1","pz","jh1","jz","dh1","dz"], "range": ["circle","square","square","circle","triangle-up","triangle-up","M0,-1L0.235,-0.324L0.951,-0.309L0.38,0.124L0.588,0.809L0,0.4L-0.588,0.809L-0.38,0.124L-0.951,-0.309L-0.235,-0.324Z","M0,-1L0.235,-0.324L0.951,-0.309L0.38,0.124L0.588,0.809L0,0.4L-0.588,0.809L-0.38,0.124L-0.951,-0.309L-0.235,-0.324Z","triangle-down","M-0.35,-1L0.35,-1L0.35,-0.35L1,-0.35L1,0.35L0.35,0.35L0.35,1L-0.35,1L-0.35,0.35L-1,0.35L-1,-0.35L-0.35,-0.35Z"]}, "legend": null},
         "size": {"field": "s", "type": "ordinal", "scale": {"domain": ["rh1","rsv","rgp","rz","ph1","pz","jh1","jz","dh1","dz"], "range": [121,100,144,121,144,144,90,140,144,144]}, "legend": null}
       }},
      {"data": {"name": "br_leg"}, "mark": {"type": "point", "filled": false, "opacity": 1, "strokeWidth": 1.6},
       "encoding": {
         "fill": {"field": "s", "type": "nominal", "scale": {"domain": ["rh1","rsv","rgp","rz","ph1","pz","jh1","jz","dh1","dz"], "range": ["#ff0000","#ff0000","transparent","transparent","#0000ff","transparent","#000000","transparent","#ff00ff","transparent"]}, "legend": null},
         "shape": {"field": "s", "type": "nominal", "scale": {"domain": ["rh1","rsv","rgp","rz","ph1","pz","jh1","jz","dh1","dz"], "range": ["circle","square","square","circle","triangle-up","triangle-up","M0,-1L0.235,-0.324L0.951,-0.309L0.38,0.124L0.588,0.809L0,0.4L-0.588,0.809L-0.38,0.124L-0.951,-0.309L-0.235,-0.324Z","M0,-1L0.235,-0.324L0.951,-0.309L0.38,0.124L0.588,0.809L0,0.4L-0.588,0.809L-0.38,0.124L-0.951,-0.309L-0.235,-0.324Z","triangle-down","M-0.35,-1L0.35,-1L0.35,-0.35L1,-0.35L1,0.35L0.35,0.35L0.35,1L-0.35,1L-0.35,0.35L-1,0.35L-1,-0.35L-0.35,-0.35Z"]}, "legend": null},
         "size": {"field": "s", "type": "ordinal", "scale": {"domain": ["rh1","rsv","rgp","rz","ph1","pz","jh1","jz","dh1","dz"], "range": [121,100,144,121,144,144,90,140,144,144]}, "legend": null}
       }},
      {"data": {"name": "br_leg"}, "mark": {"type": "text", "align": "left", "baseline": "middle", "dx": 18, "fontSize": 11, "fontWeight": "bold"}, "encoding": {"text": {"field": "t"}, "color": {"value": "#000000"}}},
      {"data": {"name": "br_hdr"}, "mark": {"type": "text", "align": "left", "baseline": "middle", "fontSize": 16, "fontWeight": "bold"}, "encoding": {"text": {"field": "t"}, "color": {"value": "#000000"}}},
      {"data": {"values": [{"t": "H1", "x": 0.07, "y": 1.05}]}, "mark": {"type": "text", "align": "left", "baseline": "middle", "fontSize": 27, "fontWeight": "bold"}, "encoding": {"text": {"field": "t"}, "color": {"value": "#000000"}}},
      {"data": {"values": [{"t": "a)", "x": 26.3, "y": 0.92}]}, "mark": {"type": "text", "align": "right", "baseline": "middle", "fontSize": 15, "fontWeight": "bold"}, "encoding": {"text": {"field": "t"}, "color": {"value": "#000000"}}}
    ],
    "resolve": {"axis": {"x": "independent", "y": "independent"}}
  }
],
"resolve": {"scale": {"x": "independent", "y": "independent", "color": "independent", "fill": "independent", "shape": "independent", "size": "independent"}}
}
